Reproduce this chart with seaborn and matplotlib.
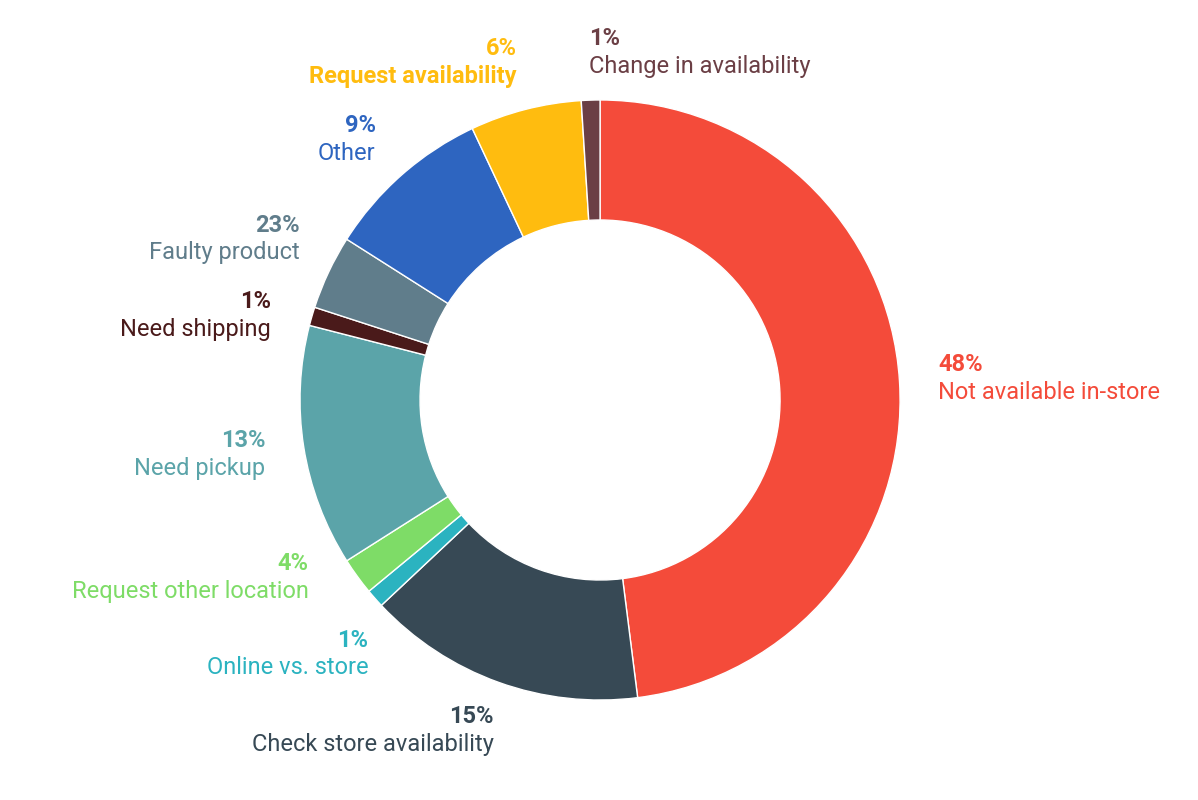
import numpy as np
import matplotlib
matplotlib.use('Agg')
import matplotlib.pyplot as plt
import seaborn as sns

# 데이터: 조각 크기와 라벨에 표시된 퍼센트 (라벨 값은 그림에 적힌 그대로)
categories = ['Not available in-store', 'Check store availability', 'Online vs. store',
              'Request other location', 'Need pickup', 'Need shipping',
              'Faulty product', 'Other', 'Request availability', 'Change in availability']
slice_values = [48, 15, 1, 2, 13, 1, 4, 9, 6, 1]
label_pcts = ['48%', '15%', '1%', '4%', '13%', '1%', '23%', '9%', '6%', '1%']
colors = ['#F44B3A', '#374955', '#2BB3C0', '#7EDC67', '#5BA4A9',
          '#4A1A1A', '#607D8B', '#2E65C0', '#FFBC0F', '#6B3F45']

sns.set_style('white')
plt.rcParams['font.family'] = ['Roboto', 'DejaVu Sans']

fig = plt.figure(figsize=(11.98, 8), dpi=100)
ax = fig.add_axes([0, 0, 1, 1])

wedges, _ = ax.pie(slice_values, colors=colors, startangle=90, counterclock=False,
                   radius=1, wedgeprops=dict(width=0.4, edgecolor='white', linewidth=1))

# 라벨 위치: 조각 중앙 각도 기준(타원), 겹치면 위아래로 밀어냄
rx, ry = 1.13, 1.16
gap = 0.255
pos = []
for w in wedges:
    ang = np.deg2rad((w.theta1 + w.theta2) / 2)
    x, y = rx * np.cos(ang), ry * np.sin(ang)
    pos.append([x, y, 'left' if x > -0.1 else 'right'])

for side in ['left', 'right']:
    idx = sorted([i for i, p in enumerate(pos) if p[2] == side], key=lambda i: -pos[i][1])
    for _ in range(50):
        for a, b in zip(idx[:-1], idx[1:]):
            d = pos[a][1] - pos[b][1]
            if d < gap:
                pos[a][1] += (gap - d) / 2
                pos[b][1] -= (gap - d) / 2

for p in pos:
    if p[2] == 'right' and abs(p[1]) < ry:
        p[0] = -rx * np.sqrt(1 - (p[1] / ry)**2)

for (x, y, ha), name, pct, c in zip(pos, categories, label_pcts, colors):
    name_weight = 'bold' if name == 'Request availability' else 'normal'
    ax.annotate(pct, (x, y), xytext=(0, 10), textcoords='offset points',
                ha=ha, va='center', fontsize=17, fontweight='bold', color=c)
    ax.annotate(name, (x, y), xytext=(0, -10), textcoords='offset points',
                ha=ha, va='center', fontsize=17, fontweight=name_weight, color=c)

ax.set_xlim(-2.0, 1.993)
ax.set_ylim(-1.333, 1.333)
ax.set_aspect('equal')
ax.axis('off')

plt.savefig('out.png', dpi=100)
